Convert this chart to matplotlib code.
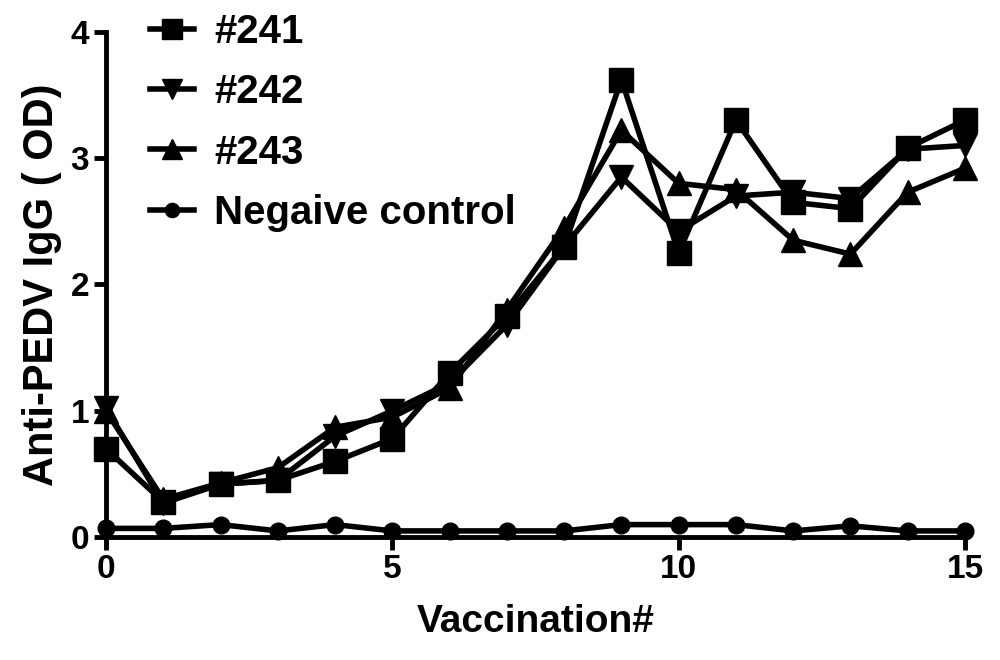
import matplotlib
matplotlib.use("Agg")
import matplotlib.pyplot as plt

plt.rcParams['font.family'] = ['Liberation Sans', 'DejaVu Sans']
plt.rcParams['font.weight'] = 'bold'

# vaccination number
vac = list(range(16))

# OD values
s241 = [0.70, 0.28, 0.42, 0.45, 0.60, 0.78, 1.30, 1.75, 2.30, 3.62, 2.25, 3.30, 2.65, 2.60, 3.08, 3.30]
s242 = [1.02, 0.27, 0.42, 0.45, 0.80, 1.00, 1.22, 1.68, 2.30, 2.85, 2.42, 2.70, 2.73, 2.68, 3.07, 3.10]
s243 = [1.00, 0.30, 0.43, 0.55, 0.87, 0.95, 1.18, 1.80, 2.45, 3.22, 2.80, 2.75, 2.35, 2.24, 2.73, 2.92]
neg = [0.07, 0.07, 0.10, 0.05, 0.10, 0.05, 0.05, 0.05, 0.05, 0.10, 0.10, 0.10, 0.05, 0.09, 0.05, 0.05]

labels = ["#241", "#242", "#243", "Negaive control"]

fig = plt.figure(figsize=(10, 6.6), dpi=100)
ax = fig.add_axes([0.106, 0.186, 0.859, 0.766])

lw = 4
ax.plot(vac, s241, color="black", lw=lw, marker="s", ms=17, label=labels[0], clip_on=False, zorder=4)
ax.plot(vac, s242, color="black", lw=lw, marker="v", ms=17, label=labels[1], clip_on=False, zorder=3)
ax.plot(vac, s243, color="black", lw=lw, marker="^", ms=17, label=labels[2], clip_on=False, zorder=3)
ax.plot(vac, neg, color="black", lw=lw, marker="o", ms=12, label=labels[3], clip_on=False, zorder=3)

ax.set_xlim(0, 15)
ax.set_ylim(0, 4)
ax.set_xticks([0, 5, 10, 15])
ax.set_yticks([0, 1, 2, 3, 4])

for side in ["top", "right"]:
    ax.spines[side].set_visible(False)
for side in ["left", "bottom"]:
    ax.spines[side].set_linewidth(3.5)

ax.tick_params(axis="both", direction="out", length=9, width=3.5, labelsize=24, pad=3)
for t in ax.get_xticklabels() + ax.get_yticklabels():
    t.set_fontweight("bold")

ax.set_xlabel("Vaccination#", fontsize=28, fontweight="bold", labelpad=14)
ax.set_ylabel("Anti-PEDV IgG ( OD)", fontsize=30, fontweight="bold", labelpad=6)

leg = ax.legend(loc="upper left", bbox_to_anchor=(0.15, 0.98), bbox_transform=fig.transFigure,
                frameon=False, fontsize=29, handlelength=1.1, handletextpad=0.5,
                labelspacing=0.55, borderaxespad=0, borderpad=0, markerscale=0.85)
for t in leg.get_texts():
    t.set_fontweight("bold")

fig.savefig("out.png", dpi=100)
